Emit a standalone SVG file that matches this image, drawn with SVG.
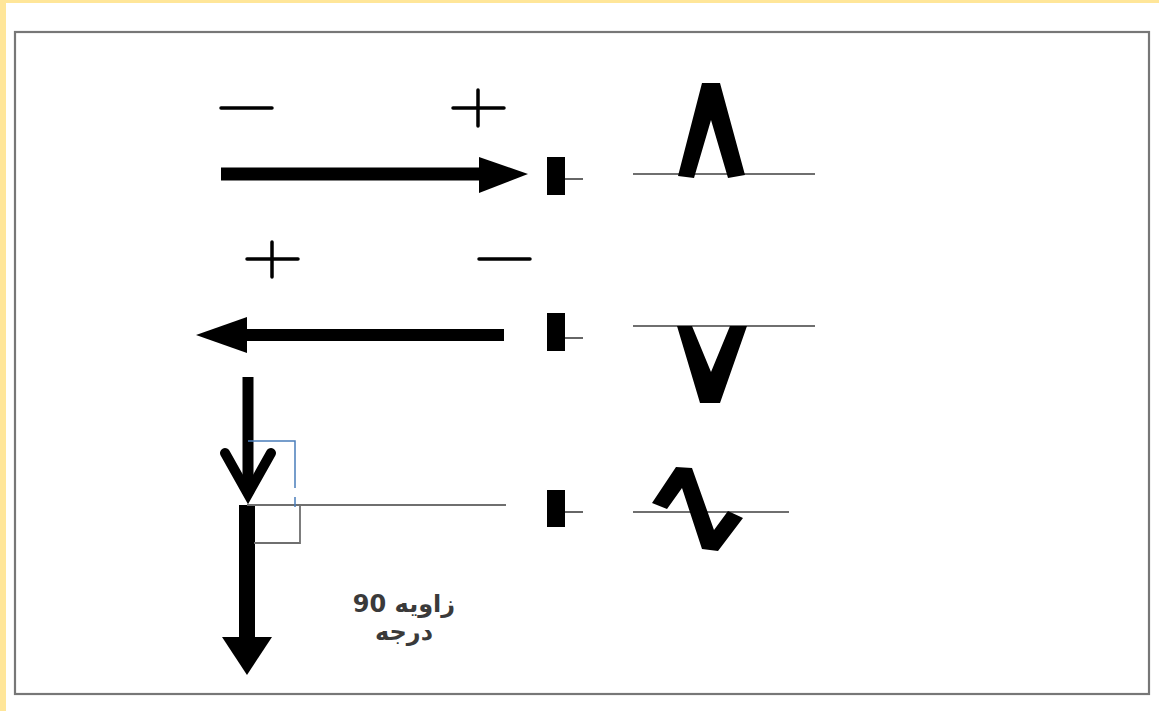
<svg xmlns="http://www.w3.org/2000/svg" width="1159" height="711" viewBox="0 0 1159 711">
  <style>
    .sign { stroke: #000; stroke-width: 3.5; stroke-linecap: round; fill: none; }
    .base { stroke: #6f6f6f; stroke-width: 2; fill: none; }
    .thin { stroke: #6f6f6f; stroke-width: 1.8; fill: none; }
    .blk { fill: #000; }
    .lbl { font-family: "DejaVu Sans", "Noto Sans", sans-serif; font-size: 24px; font-weight: bold; fill: #3a3a3a; text-anchor: middle; }
  </style>
  <rect x="0" y="0" width="1159" height="711" fill="#ffffff"/>
  <rect x="0" y="0" width="1159" height="3" fill="#ffe699"/>
  <rect x="0" y="0" width="6" height="711" fill="#ffe699"/>
  <rect x="15" y="32" width="1134" height="662" fill="none" stroke="#777" stroke-width="2.2"/>

  <g id="signs">
    <line class="sign" x1="221" y1="108" x2="272" y2="108"/>
    <line class="sign" x1="453" y1="108" x2="504" y2="108"/>
    <line class="sign" x1="478" y1="90" x2="478" y2="126"/>
    <line class="sign" x1="247" y1="259" x2="298" y2="259"/>
    <line class="sign" x1="272" y1="242" x2="272" y2="277"/>
    <line class="sign" x1="479" y1="259" x2="530" y2="259"/>
  </g>

  <g id="connectors">
    <g id="arrow-right">
      <rect class="blk" x="221" y="167.5" width="260" height="13"/>
      <polygon class="blk" points="479,157 528,174 479,193"/>
    </g>
    <g id="arrow-left">
      <rect class="blk" x="245" y="329" width="259" height="12"/>
      <polygon class="blk" points="196,335 247,317 247,353"/>
    </g>
    <g id="arrow-down-small">
      <line x1="248" y1="377" x2="248" y2="494" stroke="#000" stroke-width="11"/>
      <polyline points="225,453 248,494 271,453" fill="none" stroke="#000" stroke-width="10" stroke-linecap="round" stroke-linejoin="miter"/>
    </g>
    <g id="arrow-down-big">
      <rect class="blk" x="239" y="505" width="16" height="134"/>
      <polygon class="blk" points="222,637 272,637 247,675"/>
    </g>
  </g>

  <g id="angle">
    <line class="base" x1="247" y1="505" x2="506" y2="505"/>
    <path class="thin" d="M254,505 H300 V543 H254"/>
    <path d="M248,441 H295 V488 M295,497 V507" fill="none" stroke="#4a7ebb" stroke-width="1.5"/>
    <text class="lbl" x="404" y="612" direction="rtl">زاویه 90</text>
    <text class="lbl" x="404" y="640" direction="rtl">درجه</text>
  </g>

  <g id="electrode-1">
    <rect class="blk" x="547" y="157" width="18" height="38"/>
    <line x1="565" y1="179" x2="583" y2="179" stroke="#666" stroke-width="2"/>
  </g>
  <g id="electrode-2">
    <rect class="blk" x="547" y="313" width="18" height="38"/>
    <line x1="565" y1="338" x2="583" y2="338" stroke="#666" stroke-width="2"/>
  </g>
  <g id="electrode-3">
    <rect class="blk" x="547" y="490" width="18" height="37"/>
    <line x1="565" y1="512" x2="583" y2="512" stroke="#666" stroke-width="2"/>
  </g>

  <g id="wave-positive">
    <line class="base" x1="633" y1="174" x2="815" y2="174"/>
    <polygon class="blk" points="678,176 702,83 720,83 745,175 728,178 711,120 694,178"/>
  </g>
  <g id="wave-negative">
    <line class="base" x1="633" y1="326" x2="815" y2="326"/>
    <polygon class="blk" points="677,326 692,326 711,372 730,326 747,326 720,403 700,403"/>
  </g>
  <g id="wave-biphasic">
    <line class="base" x1="633" y1="512" x2="789" y2="512"/>
    <polygon class="blk" points="652,503 676,467 692,468 714,530 728,511 743,518 718,551 702,549 682,488 667,509"/>
  </g>
</svg>
